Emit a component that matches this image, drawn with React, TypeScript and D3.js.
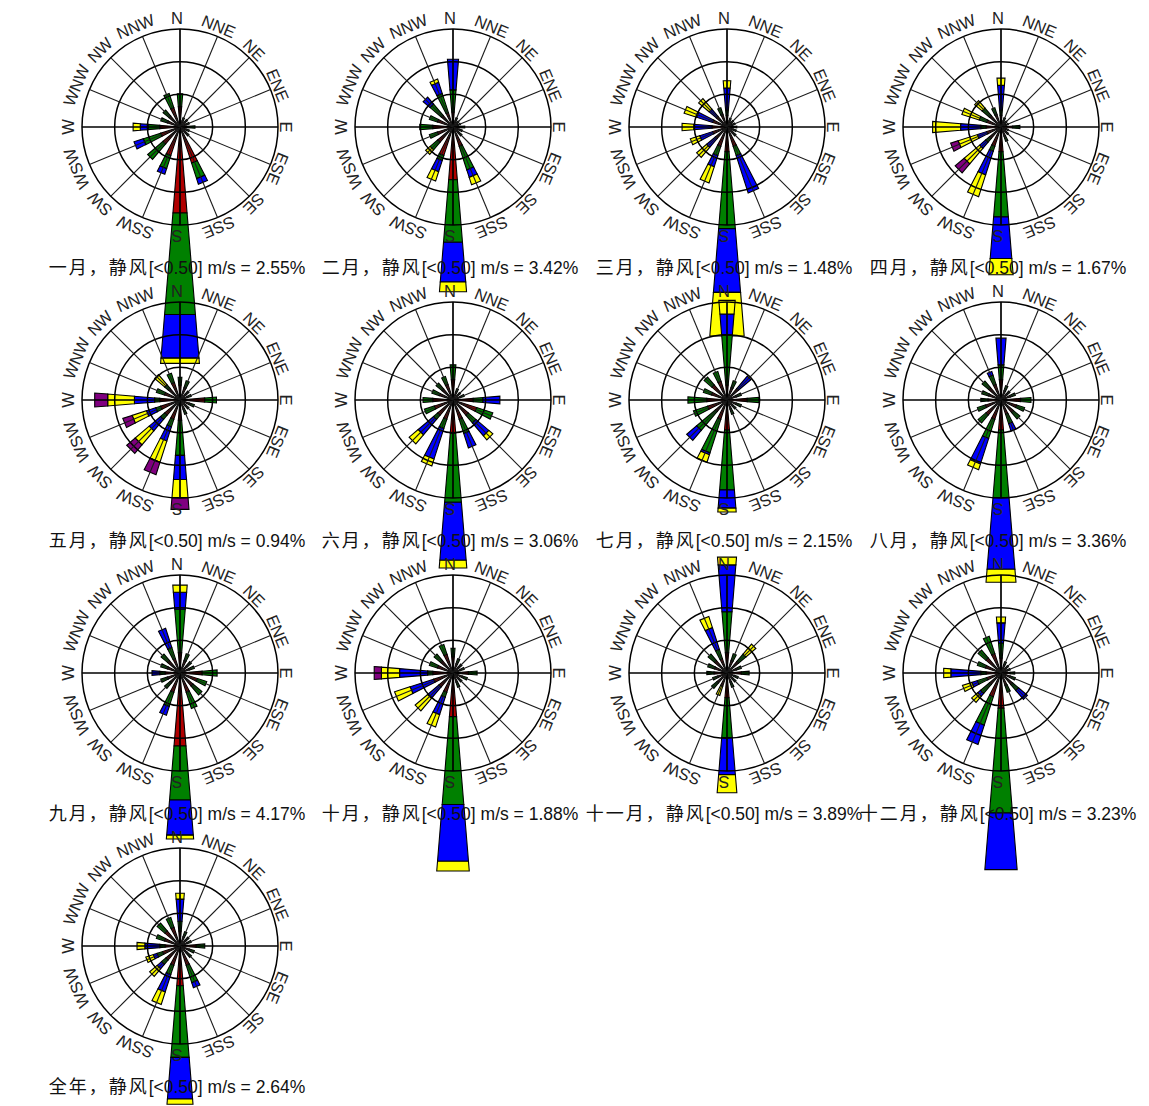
import React, { useEffect, useRef } from 'react';
import * as d3 from 'd3';

// 16 sectors, clockwise from north
const directions = ['N', 'NNE', 'NE', 'ENE', 'E', 'ESE', 'SE', 'SSE', 'S', 'SSW', 'SW', 'WSW', 'W', 'WNW', 'NW', 'NNW'];
// wind speed classes, innermost first
const speedColors = ['#b00000', '#008000', '#0000ff', '#ffff00', '#800080'];
const ringValues = [5, 10, 15];
const monthNames = ['一月', '二月', '三月', '四月', '五月', '六月', '七月', '八月', '九月', '十月', '十一月', '十二月', '全年'];
const calmValues = [2.55, 3.42, 1.48, 1.67, 0.94, 3.06, 2.15, 3.36, 4.17, 1.88, 3.89, 3.23, 2.64];

// frequency (%) per direction, stacked by speed class
const jan = [[3.1, 2.0], [1.0, 0.5], [1.0, 0.5], [1.0, 0.5], [1.2, 1.1], [1.0, 0.5], [1.2, 0.6], [5.8, 2.5, 0.9],
  [13.2, 15.6, 6.7, 0.8], [4.6, 2.1, 0.9], [3.4, 3.1], [3.1, 2.8, 1.5], [3.1, 1.8, 1.2, 1.1], [2.0, 1.1], [2.2, 1.2], [3.1, 2.3]];
const feb = [[2.3, 3.4, 4.7], [1.0, 0.5], [0.8, 0.4], [0.8, 0.4], [1.2, 0.6], [1.0, 0.5], [1.2, 0.6], [3.1, 3.8, 1.2, 1.2],
  [8.1, 9.6, 6.1, 1.5], [4.6, 0.8, 1.8, 1.5], [3.1, 1.5, 0, 0.9], [2.5, 1.3], [3.1, 2.0], [2.5, 1.3], [2.3, 2.3, 1.4], [2.3, 3.1, 1.8, 0.5]];
const mar = [[1.8, 0.8, 3.4, 1.1], [1.0, 0.4], [0.9, 0.4], [0.9, 0.4], [1.0, 0.5], [1.0, 0.5], [1.2, 0.6], [3.1, 1.5, 6.0],
  [3.8, 11.8, 9.8, 6.7], [3.1, 1.5, 1.8, 2.6], [2.3, 0, 1.8, 2.0], [2.3, 0, 2.1, 1.5], [2.3, 0, 2.8, 1.8], [2.3, 0, 2.6, 2.0], [2.1, 0, 1.5, 2.1], [2.0, 1.1]];
const apr = [[1.8, 0.8, 3.8, 1.1], [1.0, 0.5], [0.8, 0.4], [0.8, 0.4], [1.8, 1.1], [0.8, 0.4], [1.0, 0.5], [1.5, 0.8],
  [3.8, 10.0, 6.4, 2.5], [3.1, 0.8, 3.8, 3.5], [2.3, 0.8, 1.2, 3.1, 1.8], [2.3, 0, 1.5, 3.1, 1.2], [2.3, 0.8, 3.1, 4.3], [2.3, 1.2, 0, 2.8], [2.3, 1.5, 0, 1.5], [2.0, 1.1]];
const may = [[2.3, 1.2], [2.0, 1.1], [1.2, 0.6], [1.2, 0.6], [3.8, 1.8], [1.5, 0.8], [1.2, 0.6], [1.5, 0.8],
  [3.1, 5.4, 3.7, 2.8, 1.8], [3.1, 1.2, 2.3, 3.4, 2.0], [3.1, 0.8, 2.3, 2.8, 1.7], [3.1, 0.8, 1.5, 2.3, 1.5], [3.1, 0.8, 3.1, 4.1, 2.0], [2.5, 1.3], [2.3, 0.8, 0, 2.0], [2.8, 1.5]];
const jun = [[3.1, 2.3], [1.2, 0.6], [1.0, 0.5], [1.2, 0.6], [3.1, 1.5, 2.6], [3.8, 2.6], [3.1, 1.5, 2.6, 0.8], [3.1, 2.3, 2.3],
  [5.1, 10.6, 8.9, 1.2], [3.1, 1.5, 4.9, 1.1], [3.1, 0.8, 3.1, 1.8], [3.0, 1.6], [3.1, 1.5], [2.2, 1.2], [2.2, 1.2], [2.5, 1.3]];
const jul = [[2.3, 7.7, 3.2, 2.1], [2.0, 1.1], [2.3, 0, 2.5], [1.5, 0.8], [3.1, 1.8], [1.5, 0.8], [1.2, 0.6], [1.5, 0.8],
  [4.6, 9.2, 2.8, 0.6], [3.1, 5.4, 0.3, 1.2], [2.3, 3.8, 2.0], [3.1, 2.3], [3.1, 2.9], [2.5, 1.3], [3.0, 1.6], [3.0, 1.6]];
const aug = [[3.1, 2.3, 4.1], [1.5, 0.8], [1.2, 0.6], [1.5, 0.8], [3.0, 1.6], [2.5, 1.3], [2.5, 1.3], [2.3, 1.5, 1.2],
  [4.6, 10.4, 11.0, 2.0], [3.1, 3.1, 4.1, 0.9], [3.0, 1.6], [2.5, 1.3], [2.0, 1.1], [2.0, 1.1], [2.5, 1.3], [2.5, 1.5, 0.6]];
const sep = [[3.1, 6.7, 2.6, 1.1], [2.0, 1.1], [1.5, 0.8], [1.5, 0.8], [3.4, 2.3], [2.8, 1.5], [2.6, 1.8], [3.1, 2.6],
  [11.2, 8.3, 5.4, 0.6], [3.1, 2.3, 1.4], [2.0, 1.1], [2.0, 1.1], [2.3, 0.8, 1.2], [2.0, 1.1], [2.5, 1.3], [2.3, 1.8, 3.1]];
const oct = [[2.5, 1.3], [1.5, 0.8], [1.2, 0.6], [1.2, 0.6], [2.4, 1.3], [1.5, 0.8], [1.2, 0.6], [1.5, 0.8],
  [6.7, 13.5, 8.7, 1.5], [3.1, 0.8, 2.8, 2.0], [2.8, 0, 2.3, 2.5], [3.1, 0, 3.8, 2.5], [3.1, 0.8, 4.3, 2.8, 1.1], [2.5, 1.3], [2.5, 1.3], [3.0, 1.6]];
const nov = [[3.1, 6.3, 7.2, 1.2], [2.0, 1.1], [2.3, 1.5, 0, 2.0], [1.5, 0.8], [2.2, 1.2], [1.2, 0.6], [1.2, 0.6], [1.5, 0.8],
  [3.8, 6.1, 5.7, 2.8], [2.1, 0, 0, 1.5], [2.0, 1.1], [1.5, 0.8], [2.0, 1.1], [2.0, 1.1], [2.5, 1.3], [2.3, 1.5, 3.5, 1.8]];
const dec = [[2.3, 2.3, 3.1, 0.9], [1.2, 0.6], [1.0, 0.5], [1.0, 0.5], [1.4, 0.7], [1.5, 0.8], [2.3, 1.2, 1.8], [2.0, 1.1],
  [5.4, 16.1, 8.7], [3.8, 4.6, 3.1], [2.3, 1.8, 0.6, 1.2], [2.3, 1.5, 0.9, 1.5], [2.3, 0.8, 4.6, 1.1], [2.5, 1.3], [3.0, 1.6], [3.1, 2.8]];
const year = [[2.3, 1.5, 3.4, 0.9], [1.5, 0.8], [1.2, 0.6], [1.2, 0.6], [2.5, 1.3], [1.5, 0.8], [1.5, 0.8], [3.1, 2.8, 0.8],
  [6.1, 11.0, 6.4, 0.8], [3.1, 1.5, 2.8, 2.0], [2.8, 0.9, 0.9, 1.5], [2.8, 0.9, 0.6, 1.2], [2.3, 0.8, 2.3, 1.2], [2.5, 1.3], [3.0, 1.6], [3.0, 1.6]];
const roseData = [jan, feb, mar, apr, may, jun, jul, aug, sep, oct, nov, dec, year];

const WIDTH = 1149;
const HEIGHT = 1106;
const colX = [180, 453, 727, 1001];
const rowY = [127, 400, 673, 946];
const R = 98;
const halfWidth = (4.7 * Math.PI) / 180;
const FONT = "'Liberation Sans', Arial, 'Noto Sans CJK SC', sans-serif";
const CJK_FONT = "'Noto Sans CJK SC', sans-serif";

export default function App() {
  const ref = useRef<SVGSVGElement>(null);

  useEffect(() => {
    const svg = d3.select(ref.current);
    svg.selectAll('*').remove();

    const rScale = d3.scaleLinear().domain([0, ringValues[ringValues.length - 1]]).range([0, R]);
    const aScale = d3.scaleLinear().domain([0, directions.length]).range([0, 2 * Math.PI]);
    const polar = (r: number, a: number): [number, number] => [r * Math.sin(a), -r * Math.cos(a)];
    const poly = d3.line();

    roseData.forEach((rows, m) => {
      const cx = colX[m % 4];
      const cy = rowY[Math.floor(m / 4)];
      const g = svg.append('g').attr('transform', `translate(${cx},${cy})`);

      // stacked wedges
      const bars = g.append('g');
      rows.forEach((vals, i) => {
        const a = aScale(i);
        let acc = 0;
        vals.forEach((v, k) => {
          if (v <= 0) return;
          const r0 = rScale(acc);
          const r1 = rScale(acc + v);
          acc += v;
          const pts = [polar(r0, a - halfWidth), polar(r1, a - halfWidth), polar(r1, a + halfWidth), polar(r0, a + halfWidth)];
          bars.append('path')
            .attr('d', poly(pts) + 'Z')
            .attr('fill', speedColors[k])
            .attr('stroke', '#000')
            .attr('stroke-width', 1.1)
            .attr('stroke-linejoin', 'miter');
        });
      });

      // rings and spokes over the bars
      const grid = g.append('g').attr('fill', 'none');
      ringValues.forEach(v => {
        grid.append('circle').attr('r', rScale(v)).attr('stroke', '#000').attr('stroke-width', 1.5);
      });
      directions.forEach((d, i) => {
        const [x, y] = polar(R, aScale(i));
        const major = i % 4 === 0;
        grid.append('line')
          .attr('x1', 0).attr('y1', 0).attr('x2', x).attr('y2', y)
          .attr('stroke', major ? '#000' : '#1a1a1a')
          .attr('stroke-width', major ? 1.7 : 1.1);
      });

      // direction labels, rotated with the sector
      g.append('g')
        .attr('transform', 'translate(-3,0)')
        .selectAll('text')
        .data(directions)
        .join('text')
        .attr('transform', (d, i) => `rotate(${i * 22.5}) translate(0,${-(R + 5)})`)
        .attr('text-anchor', 'middle')
        .attr('font-family', FONT)
        .attr('font-size', 16.5)
        .attr('fill', '#222')
        .text(d => d);

      const caption = svg.append('text')
        .attr('x', cx - 3)
        .attr('y', cy + 147)
        .attr('text-anchor', 'middle')
        .attr('font-family', FONT)
        .attr('font-size', 17.5)
        .attr('fill', '#111');
      caption.append('tspan')
        .attr('font-family', CJK_FONT)
        .attr('font-size', 18)
        .attr('letter-spacing', 2)
        .text(`${monthNames[m]}，静风`);
      caption.append('tspan')
        .text(`[<0.50] m/s = ${calmValues[m].toFixed(2)}%`);
    });
  }, []);

  return (
    <svg
      ref={ref}
      width={WIDTH}
      height={HEIGHT}
      style={{ position: 'absolute', left: 0, top: 0, background: '#fff', overflow: 'hidden' }}
    />
  );
}
